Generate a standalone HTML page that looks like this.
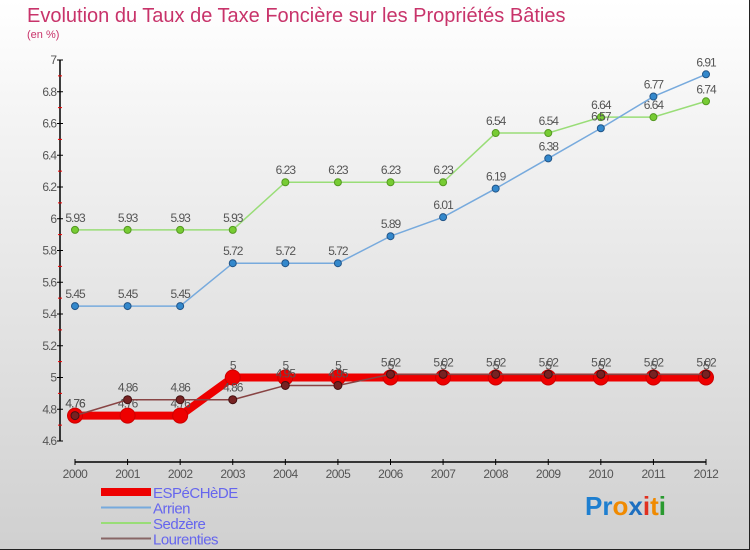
<!DOCTYPE html>
<html><head><meta charset="utf-8"><style>
body{margin:0}
#c{width:750px;height:550px;position:relative;background:linear-gradient(#fff 0%,#f0f0f0 30%,#d0d0d0 100%);box-sizing:border-box;border:1px solid #222;border-left:none;border-top:none;overflow:hidden;font-family:"Liberation Sans",sans-serif}
svg{position:absolute;left:0;top:0}
</style></head><body>
<div id="c">
<svg id="s" width="750" height="550">
<text x="27" y="22" font-size="20" fill="#c8336a">Evolution du Taux de Taxe Foncière sur les Propriétés Bâties</text>
<text x="27" y="38" font-size="11" fill="#c8336a">(en %)</text>
<g id="axes"></g><g id="series"></g><g id="legend"></g>
<text x="585" y="515" font-size="26" font-weight="bold"><tspan fill="#1e7fd0">Pr</tspan><tspan fill="#f08a00">o</tspan><tspan fill="#1e6fc0">x</tspan><tspan fill="#e03020">i</tspan><tspan fill="#f08a00">t</tspan><tspan fill="#2a9a30">i</tspan></text>
</svg></div>
<script>
const years=[2000,2001,2002,2003,2004,2005,2006,2007,2008,2009,2010,2011,2012];
const espechede=[4.76,4.76,4.76,5,5,5,5,5,5,5,5,5,5];
const arrien=[5.45,5.45,5.45,5.72,5.72,5.72,5.89,6.01,6.19,6.38,6.57,6.77,6.91];
const sedzere=[5.93,5.93,5.93,5.93,6.23,6.23,6.23,6.23,6.54,6.54,6.64,6.64,6.74];
const lourenties=[4.76,4.86,4.86,4.86,4.95,4.95,5.02,5.02,5.02,5.02,5.02,5.02,5.02];
const yTicks=[4.6,4.8,5,5.2,5.4,5.6,5.8,6,6.2,6.4,6.6,6.8,7];
const NS="http://www.w3.org/2000/svg";
const X=i=>75+i*(631/12);
const Y=v=>60+(7-v)*(381/2.4);
function mk(t,a,p){const e=document.createElementNS(NS,t);for(const k in a)e.setAttribute(k,a[k]);p.appendChild(e);return e;}
const ax=document.getElementById('axes');
let yl=mk('line',{x1:60,y1:Y(7),x2:60,y2:Y(4.6),stroke:'#000','stroke-width':1.5},ax);


yTicks.forEach(v=>{
 mk('line',{x1:57,y1:Y(v),x2:63,y2:Y(v),stroke:'#000'},ax);
 if(v<7){mk('line',{x1:58,y1:Y(v+0.1),x2:62,y2:Y(v+0.1),stroke:'#e00'},ax);}
 const t=mk('text',{x:56,y:Y(v)+4,'text-anchor':'end','font-size':12,fill:'#555','letter-spacing':'-1'},ax);
 
 
 t.textContent=String(v);
});
let xl=mk('line',{x1:X(0),y1:462,x2:X(12),y2:462,stroke:'#000','stroke-width':1.5},ax);


years.forEach((yv,i)=>{
 mk('line',{x1:X(i),y1:459,x2:X(i),y2:465,stroke:'#000'},ax);
 const t=mk('text',{x:X(i),y:478,'text-anchor':'middle','font-size':12,fill:'#555','letter-spacing':'-0.5'},ax);
 
 
 t.textContent=String(yv);
});
const sg=document.getElementById('series');
function series(name,vals,color,w,r,dot,stroke){
 const g=mk('g',{},sg);
 
 
 mk('polyline',{points:vals.map((v,i)=>X(i)+','+Y(v)).join(' '),fill:'none',stroke:color,'stroke-width':w},g);
 vals.forEach((v,i)=>{
  const c=mk('circle',{cx:X(i),cy:Y(v),r:r,fill:dot,stroke:stroke,'stroke-width':1},g);
  
  
  const t=mk('text',{x:X(i),y:Y(v)-8,'text-anchor':'middle','font-size':12,fill:'#555','letter-spacing':'-1'},g);
  
  
  t.textContent=String(v);
 });
}
series('sedzere',sedzere,'#99dd77',1.5,3.5,'#77cc33','#559922');
series('arrien',arrien,'#77aadd',1.5,3.5,'#3388cc','#225588');
series('espechede',espechede,'#ee0000',8,7.5,'#ee0000','#cc0000');
series('lourenties',lourenties,'#884444',1.5,4,'#772222','#441111');
const lg=document.getElementById('legend');
[['ESPéCHèDE','#ee0000',8],['Arrien','#77aadd',2],['Sedzère','#99dd77',2],['Lourenties','#886666',2]].forEach((d,i)=>{
 const g=mk('g',{},lg);
 
 
 const y=492+i*15.5;
 mk('line',{x1:101,y1:y,x2:151,y2:y,stroke:d[1],'stroke-width':d[2]},g);
 const t=mk('text',{x:153,y:y+6,'font-size':15,fill:'#6666ee','letter-spacing':'-0.5'},g);
 t.textContent=d[0];
});
</script>
</body></html>
